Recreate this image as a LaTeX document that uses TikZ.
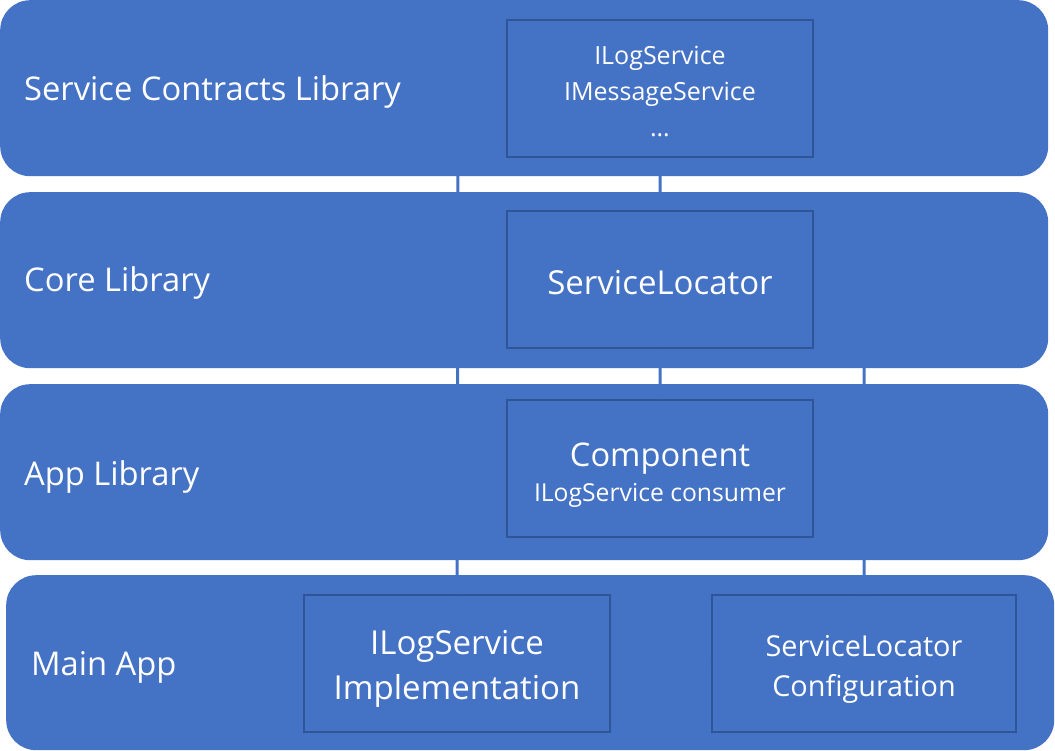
\documentclass[tikz,border=0pt]{standalone}
\usepackage{fontspec}
\setmainfont{Open Sans}
\usetikzlibrary{positioning}

\definecolor{layerblue}{HTML}{4472C4}
\definecolor{boxblue}{HTML}{2F5597}
\newcommand{\pushdown}[1]{\rule{0pt}{#1}}

\begin{document}
\begin{tikzpicture}[x=1pt,y=-1pt,
                    every node/.style={text=white,inner sep=0pt}]
  \tikzstyle{layer}=[rectangle,rounded corners=30pt,fill=layerblue,
                     minimum width=1048pt,minimum height=176pt,anchor=north west]
  \tikzstyle{layername}=[anchor=west,font=\fontsize{32.7}{38}\selectfont]
  \tikzstyle{part}=[rectangle,draw=boxblue,line width=2pt,
                    minimum width=306pt,minimum height=137pt,align=center]
  \tikzstyle{link}=[draw=layerblue,line width=3pt]

  \useasboundingbox (0,0) rectangle (1055,751);

  % layers
  \node[layer] (contracts) at (0,0)   {};
  \node[layer] (core)      at (0,192) {};
  \node[layer] (app)       at (0,384) {};
  \node[layer,minimum height=175pt] (main) at (6,575) {};

  \node[layername] (contractsname) at (24,92)  {Service Contracts Library};
  \node[layername] (corename)      at (24,283) {Core Library};
  \node[layername] (appname)       at (24,477) {App Library};
  \node[layername] (mainname)      at (31,667) {Main App};

  % parts
  \node[part,font=\fontsize{25}{36}\selectfont] (services) at (660,89)
       {\pushdown{24pt}ILogService\\IMessageService\\…};
  \node[part,font=\fontsize{33}{38}\selectfont] (locator) at (660,279.5)
       {\pushdown{30pt}ServiceLocator};
  \node[part] (component) at (660,468.5)
       {{\fontsize{32.6}{38}\selectfont\pushdown{36pt}Component}\\[8pt]
        {\fontsize{24.7}{28}\selectfont ILogService consumer}};
  \node[part,font=\fontsize{33}{45}\selectfont] (impl) at (457,663.5)
       {\pushdown{34pt}ILogService\\Implementation};
  \node[part,minimum width=304pt,font=\fontsize{28.8}{40}\selectfont] (config) at (864,663.5)
       {\pushdown{33pt}ServiceLocator\\Configuration};

  \coordinate (logref)  at (458,150);
  \coordinate (coreref) at (864,330);

  % links
  \path[link] (services) -- (locator)
              (locator)  -- (component)
              (logref)   -- (impl)
              (coreref)  -- (config)
              (impl)     -- (config);
\end{tikzpicture}
\end{document}
